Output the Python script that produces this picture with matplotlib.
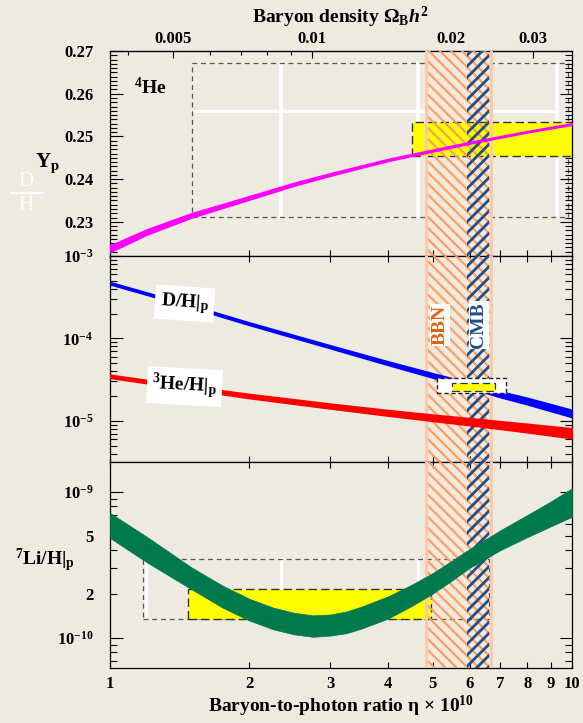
import numpy as np
import matplotlib.pyplot as plt
from matplotlib.patches import Rectangle
from matplotlib.lines import Line2D
from matplotlib.ticker import FixedLocator, NullFormatter, NullLocator, FuncFormatter

plt.rcParams['font.family'] = ['Liberation Serif', 'DejaVu Serif']
plt.rcParams['font.weight'] = 'bold'
plt.rcParams['mathtext.fontset'] = 'custom'
plt.rcParams['mathtext.rm'] = 'Liberation Serif:bold'
plt.rcParams['mathtext.it'] = 'Liberation Serif:bold:italic'
plt.rcParams['mathtext.bf'] = 'Liberation Serif:bold'
plt.rcParams['hatch.linewidth'] = 1.5

bg = '#edeae0'

# 4He mass fraction vs eta
eta_he = [1.0, 1.2, 1.5, 2.0, 2.5, 3.0, 4.0, 5.0, 6.0, 7.0, 8.0, 10.0]
yp = [0.2237, 0.2276, 0.2315, 0.2356, 0.2388, 0.2411, 0.2445, 0.2467, 0.2485, 0.2499, 0.2511, 0.2529]
yp_err = [0.00075, 0.0006, 0.0005, 0.0004, 0.00033, 0.00028, 0.00023, 0.0002, 0.00018, 0.00016, 0.00015, 0.00015]

# D/H and 3He/H
eta_dh = [1, 1.5, 2, 3, 4, 5, 6, 7, 8, 10]
dh = [4.68e-4, 2.45e-4, 1.51e-4, 7.9e-5, 5.0e-5, 3.55e-5, 2.7e-5, 2.1e-5, 1.74e-5, 1.23e-5]
dh_err = [0.01, 0.012, 0.015, 0.02, 0.03, 0.04, 0.05, 0.06, 0.07, 0.08]
he3 = [3.47e-5, 2.5e-5, 2.0e-5, 1.51e-5, 1.25e-5, 1.09e-5, 9.8e-6, 8.9e-6, 8.2e-6, 7.1e-6]
he3_err = [0.015, 0.02, 0.03, 0.04, 0.05, 0.06, 0.07, 0.08, 0.09, 0.11]

# 7Li/H band
eta_li = [1.0, 1.2, 1.5, 1.75, 2.0, 2.25, 2.5, 2.75, 3.0, 3.25, 3.5, 4.0, 4.5, 5.0, 5.5, 6.0,
          7.0, 8.0, 9.0, 10.0]
li_hi = [7.18e-10, 4.95e-10, 3.05e-10, 2.29e-10, 1.86e-10, 1.62e-10, 1.49e-10, 1.43e-10,
         1.45e-10, 1.52e-10, 1.64e-10, 1.93e-10, 2.32e-10, 2.79e-10, 3.39e-10, 4.07e-10,
         5.47e-10, 6.95e-10, 8.61e-10, 1.06e-9]
li_lo = [4.84e-10, 3.31e-10, 2.16e-10, 1.62e-10, 1.32e-10, 1.15e-10, 1.06e-10, 1.02e-10,
         1.04e-10, 1.08e-10, 1.16e-10, 1.36e-10, 1.66e-10, 2.02e-10, 2.48e-10, 3.02e-10,
         4.00e-10, 4.90e-10, 5.82e-10, 6.76e-10]

# observational boxes
he_obs = (4.5, 10.5, 0.2453, 0.2533)
he_range = (1.505, 9.8, 0.2312, 0.2672)
he_white_x = [2.345, 4.64, 9.28]
he_white_y = 0.256
d_outer = (5.1, 7.2, 2.19e-5, 3.31e-5)
d_obs = (5.5, 6.8, 2.32e-5, 2.9e-5)
li_obs = (1.475, 4.95, 1.36e-10, 2.17e-10)
li_range = (1.18, 6.6, 1.35e-10, 3.48e-10)

# bands
bbn = (4.83, 6.68)
cmb = (5.93, 6.61)
omega_conv = 274.0

eta_ticks = [1, 2, 3, 4, 5, 6, 7, 8, 9, 10]

W, H = 583, 723
fig = plt.figure(figsize=(W / 100, H / 100), dpi=100, facecolor=bg)


def box(l, t, r, b):
    return [l / W, 1 - b / H, (r - l) / W, (b - t) / H]


ax1 = fig.add_axes(box(110, 51, 572, 256))
ax2 = fig.add_axes(box(110, 256, 572, 462))
ax3 = fig.add_axes(box(110, 462, 572, 668))

for ax in (ax1, ax2, ax3):
    ax.set_facecolor(bg)
    ax.set_xscale('log')
    ax.set_xlim(1, 10)
    ax.xaxis.set_major_locator(FixedLocator(eta_ticks))
    ax.xaxis.set_minor_locator(NullLocator())
    ax.xaxis.set_major_formatter(NullFormatter())
    for s in ax.spines.values():
        s.set_linewidth(0.9)
    ax.tick_params(axis='x', which='both', direction='in', length=4.5, width=0.8,
                   top=True, bottom=True)
    ax.tick_params(axis='y', which='major', direction='in', length=9, width=0.8,
                   left=True, right=True, labelsize=12, pad=12)
    ax.tick_params(axis='y', which='minor', direction='in', length=5, width=0.8,
                   left=True, right=True, labelsize=12, pad=12)
    # BBN and CMB bands
    ax.axvspan(*bbn, facecolor='#f1e9de', edgecolor='none', zorder=1)
    ax.axvspan(*bbn, facecolor='none', edgecolor='#ff9c5a', hatch='\\\\\\', lw=0, zorder=3)
    with plt.rc_context({'hatch.linewidth': 2.0}):
        ax.axvspan(*cmb, facecolor='none', edgecolor='#1d4f91', hatch='///', lw=0, zorder=3.1)
    for xe in bbn:
        ax.axvline(xe, color='#f9c9b0', lw=2.2, zorder=3.2)

ax1.tick_params(axis='x', top=False)

# ---- panel 1: 4He
ax1.set_ylim(0.222, 0.27)
ax1.yaxis.set_major_locator(FixedLocator([0.23, 0.24, 0.25, 0.26, 0.27]))
ax1.yaxis.set_minor_locator(FixedLocator(np.arange(0.222, 0.2705, 0.001)))
ax1.yaxis.set_major_formatter(FuncFormatter(lambda v, p: '%.2f' % v))

ax1.add_patch(Rectangle((he_range[0], he_range[2]), he_range[1] - he_range[0],
                        he_range[3] - he_range[2], fill=False, ec='#555555', lw=0.9,
                        ls=(0, (4, 3)), zorder=0.9))
for xw in he_white_x:
    ax1.plot([xw, xw], [he_range[2], he_range[3]], color='white', lw=2.6, zorder=0.8)
ax1.plot([he_range[0], he_white_x[-1]], [he_white_y, he_white_y], color='white', lw=2.3, zorder=0.8)
ax1.add_patch(Rectangle((he_obs[0], he_obs[2]), he_obs[1] - he_obs[0], he_obs[3] - he_obs[2],
                        fc='#ffff00', ec='#333333', lw=1.0, ls=(0, (6, 3)), zorder=2))
yp_a = np.array(yp)
yp_e = np.array(yp_err)
ax1.fill_between(eta_he, yp_a - yp_e, yp_a + yp_e, color='#ff00ff', lw=1.2, zorder=4)
ax1.text(1.22, 0.2614, r'$^{4}$He', fontsize=14, ha='center', va='center')

sec = ax1.secondary_xaxis('top', functions=(lambda e: e / omega_conv, lambda o: o * omega_conv))
sec.set_xticks([0.005, 0.01, 0.02, 0.03])
sec.set_xticklabels(['0.005', '0.01', '0.02', '0.03'])
sec.xaxis.set_minor_locator(FixedLocator([0.004, 0.006, 0.007, 0.008, 0.009]))
sec.xaxis.set_minor_formatter(NullFormatter())
sec.tick_params(which='major', direction='in', length=5, width=0.8, labelsize=12, pad=3)
sec.tick_params(which='minor', direction='in', length=3, width=0.8)

# ---- panel 2: D/H, 3He/H
ax2.set_yscale('log')
ax2.set_ylim(10 ** -5.5, 1e-3)
ax2.yaxis.set_major_locator(FixedLocator([1e-5, 1e-4, 1e-3]))
ax2.yaxis.set_major_formatter(FuncFormatter(lambda v, p: r'10$^{%d}$' % round(np.log10(v))))
ax2.yaxis.set_minor_locator(FixedLocator([m * 10.0 ** e for e in (-6, -5, -4) for m in range(2, 10)]))
ax2.yaxis.set_minor_formatter(NullFormatter())

dh_a, dh_e = np.array(dh), np.array(dh_err)
ax2.fill_between(eta_dh, dh_a * (1 - dh_e), dh_a * (1 + dh_e), color='#0000ff', lw=2.2, zorder=4)
he_a, he_e = np.array(he3), np.array(he3_err)
ax2.fill_between(eta_dh, he_a * (1 - he_e), he_a * (1 + he_e), color='#ff0000', lw=2.6, zorder=4)

ax2.add_patch(Rectangle((d_outer[0], d_outer[2]), d_outer[1] - d_outer[0], d_outer[3] - d_outer[2],
                        fc='white', ec='#222222', lw=1.0, ls=(0, (3, 2)), zorder=5))
ax2.add_patch(Rectangle((d_obs[0], d_obs[2]), d_obs[1] - d_obs[0], d_obs[3] - d_obs[2],
                        fc='#ffff00', ec='#333333', lw=0.9, ls=(0, (6, 3)), zorder=5.1))

ax2.text(1.45, 2.65e-4, r'D/H$|_{\rm p}$', fontsize=14, ha='center', va='center', rotation=-4,
         bbox=dict(fc='white', ec='none', pad=4), zorder=6)
ax2.text(1.45, 2.6e-5, r'$^{3}$He/H$|_{\rm p}$', fontsize=14, ha='center', va='center', rotation=-3,
         bbox=dict(fc='white', ec='none', pad=3.5), zorder=6)
ax2.text(5.18, 1.45e-4, 'BBN', fontsize=14, color='#e0630f', rotation=90, ha='center', va='center',
         bbox=dict(fc='white', ec='none', pad=0.8), zorder=6)
ax2.text(6.29, 1.45e-4, 'CMB', fontsize=14, color='#1d4f8c', rotation=90, ha='center', va='center',
         bbox=dict(fc='white', ec='none', pad=0.8), zorder=6)

# ---- panel 3: 7Li/H
ax3.set_yscale('log')
ax3.set_ylim(10 ** -10.205, 10 ** -8.795)
ax3.yaxis.set_major_locator(FixedLocator([1e-10, 1e-9]))
ax3.yaxis.set_major_formatter(FuncFormatter(lambda v, p: r'10$^{%d}$' % round(np.log10(v))))
ax3.yaxis.set_minor_locator(FixedLocator([m * 1e-11 for m in range(6, 10)] + [m * 1e-10 for m in range(2, 10)]))
ax3.yaxis.set_minor_formatter(FuncFormatter(
    lambda v, p: '5' if abs(v - 5e-10) < 1e-12 else ('2' if abs(v - 2e-10) < 1e-12 else '')))
ax3.xaxis.set_major_formatter(FuncFormatter(lambda v, p: '%d' % round(v)))
ax3.tick_params(axis='x', labelsize=12, pad=6)

ax3.add_patch(Rectangle((li_range[0], li_range[2]), li_range[1] - li_range[0], li_range[3] - li_range[2],
                        fill=False, ec='#555555', lw=0.9, ls=(0, (4, 3)), zorder=1.2))
ax3.plot([1.195, 1.195], [1.37e-10, 3.42e-10], color='white', lw=2.4, zorder=1.1)
for xw in he_white_x[:2]:
    ax3.plot([xw, xw], [2.2e-10, li_range[3]], color='white', lw=2.4, zorder=1.1)
ax3.add_patch(Rectangle((li_obs[0], li_obs[2]), li_obs[1] - li_obs[0], li_obs[3] - li_obs[2],
                        fc='#ffff00', ec='#333333', lw=1.0, ls=(0, (6, 3)), zorder=2))
ax3.fill_between(eta_li, li_lo, li_hi, color='#00794f', lw=0.5, zorder=4)

# ---- outer labels
def ftxt(x, y, s, **kw):
    fig.text(x / W, 1 - y / H, s, **kw)


ftxt(340, 17, r'Baryon density Ω$_{\rm B}h^2$', fontsize=14, ha='center', va='center')
ftxt(341, 706, r'Baryon-to-photon ratio η × 10$^{10}$', fontsize=14, ha='center', va='center')
ftxt(47, 163, r'Y$_{\rm p}$', fontsize=15, ha='center', va='center')
# faint white D/H fraction left of the Yp label
ftxt(26, 181, 'D', fontsize=15, color='white', fontweight='normal', ha='center', va='center')
ftxt(26, 206, 'H', fontsize=15, color='white', fontweight='normal', ha='center', va='center')
fig.add_artist(Line2D([11 / W, 43 / W], [1 - 193 / H, 1 - 193 / H], color='white', lw=1.5))
ftxt(45, 560, r'$^{7}$Li/H$|_{\rm p}$', fontsize=14, ha='center', va='center')

fig.savefig('out.png', dpi=100, facecolor=bg)
